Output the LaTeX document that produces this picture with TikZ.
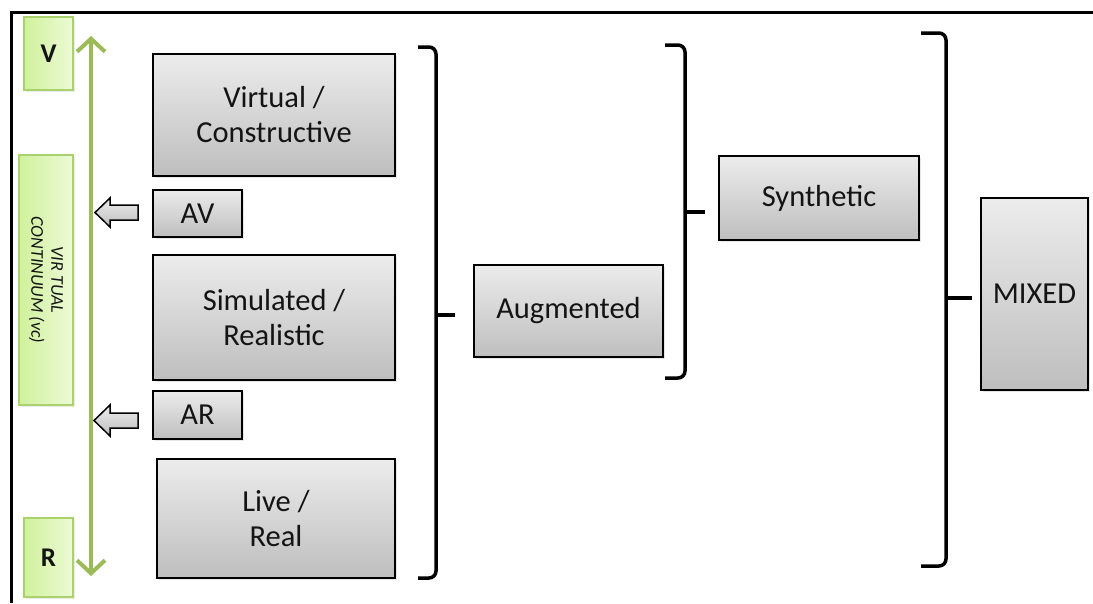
\documentclass[tikz,border=0pt]{standalone}
\usepackage{fontspec}
\setmainfont{Carlito}
\usetikzlibrary{arrows.meta,shadows}
\definecolor{gtop}{RGB}{236,236,236}
\definecolor{gbot}{RGB}{190,190,190}
\definecolor{grnL}{RGB}{208,241,156}
\definecolor{grnR}{RGB}{236,250,214}
\definecolor{grnB}{RGB}{170,210,108}
\definecolor{grnA}{RGB}{155,187,89}
\definecolor{txt}{RGB}{20,20,20}
\tikzset{
  graybox/.style={draw=black, line width=1.5pt, top color=gtop, bottom color=gbot,
    inner sep=0pt, align=center, text=txt, font=\fontsize{30.5}{35}\selectfont,
    drop shadow={opacity=0.2, shadow xshift=2pt, shadow yshift=-2pt}},
  greenbox/.style={draw=grnB, line width=1.5pt, left color=grnL, right color=grnR,
    inner sep=0pt, align=center, text=txt,
    drop shadow={opacity=0.15, shadow xshift=2pt, shadow yshift=-2pt}},
  bracket/.style={line width=3.5pt, black, rounded corners=7pt},
  hollow/.style={draw=black, line width=1.5pt, top color=gtop, bottom color=gbot, line join=miter},
  frame/.style={line width=3pt, black}
}
\begin{document}
\begin{tikzpicture}[x=1pt,y=-1pt]
\useasboundingbox (0,0) rectangle (1093,603);
% frame
\coordinate (ftl) at (11,12);
\coordinate (ftr) at (1093,12);
\coordinate (fbl) at (11,603);
\draw[frame] (ftr) -- (ftl) -- (fbl);
% green boxes
\node[greenbox, minimum width=49pt, minimum height=73pt, font=\fontsize{27}{30}\selectfont\bfseries] (V) at (48.5,53.5) {V};
\node[greenbox, minimum width=54pt, minimum height=250pt] (vc) at (46,280) {};
\node[rotate=-90, align=center, text=txt, font=\fontsize{18}{20}\selectfont\itshape] (vclabel) at (46,280) {VIR TUAL\\CONTINUUM (vc)};
\node[greenbox, minimum width=49pt, minimum height=79pt, font=\fontsize{27}{30}\selectfont\bfseries] (R) at (48.5,557.5) {R};
% green double arrow
\coordinate (vtop) at (91,36);
\coordinate (rbot) at (91,576);
\draw[grnA, line width=4pt, {Straight Barb[length=13pt,width=28pt,line width=4pt]}-{Straight Barb[length=13pt,width=28pt,line width=4pt]}] (vtop) -- (rbot);
% left column boxes
\node[graybox, minimum width=242pt, minimum height=122pt] (virt) at (274,115) {Virtual /\\Constructive};
\node[graybox, minimum width=89pt, minimum height=47pt] (av) at (197.5,213.5) {AV};
\node[graybox, minimum width=242pt, minimum height=125pt] (sim) at (274,317.5) {Simulated /\\Realistic};
\node[graybox, minimum width=89pt, minimum height=48pt] (ar) at (197.5,415) {AR};
\node[graybox, minimum width=238pt, minimum height=119pt] (live) at (276,518.5) {Live /\\Real};
% hollow arrows
\draw[hollow] (138,205) -- (110,205) -- (110,198) -- (95,212.5) -- (110,227) -- (110,220) -- (138,220) -- cycle;
\draw[hollow] (138,413) -- (110,413) -- (110,405) -- (94,420.5) -- (110,436) -- (110,428) -- (138,428) -- cycle;
% brackets
\draw[bracket] (418,47) -- (436,47) -- (436,578) -- (418,578);
\draw[line width=3.5pt] (436,315) -- (455,315);
\node[graybox, minimum width=189pt, minimum height=92pt] (aug) at (568.5,311) {Augmented};
\draw[bracket] (665,45) -- (685,45) -- (685,378) -- (665,378);
\draw[line width=3.5pt] (685,212) -- (705,212);
\node[graybox, minimum width=200pt, minimum height=84pt] (syn) at (819,198) {Synthetic};
\draw[bracket] (921,33) -- (946,33) -- (946,566) -- (921,566);
\draw[line width=3.5pt] (946,298) -- (972,298);
\node[graybox, minimum width=107pt, minimum height=192pt] (mixed) at (1034.5,294) {MIXED};
\end{tikzpicture}
\end{document}
